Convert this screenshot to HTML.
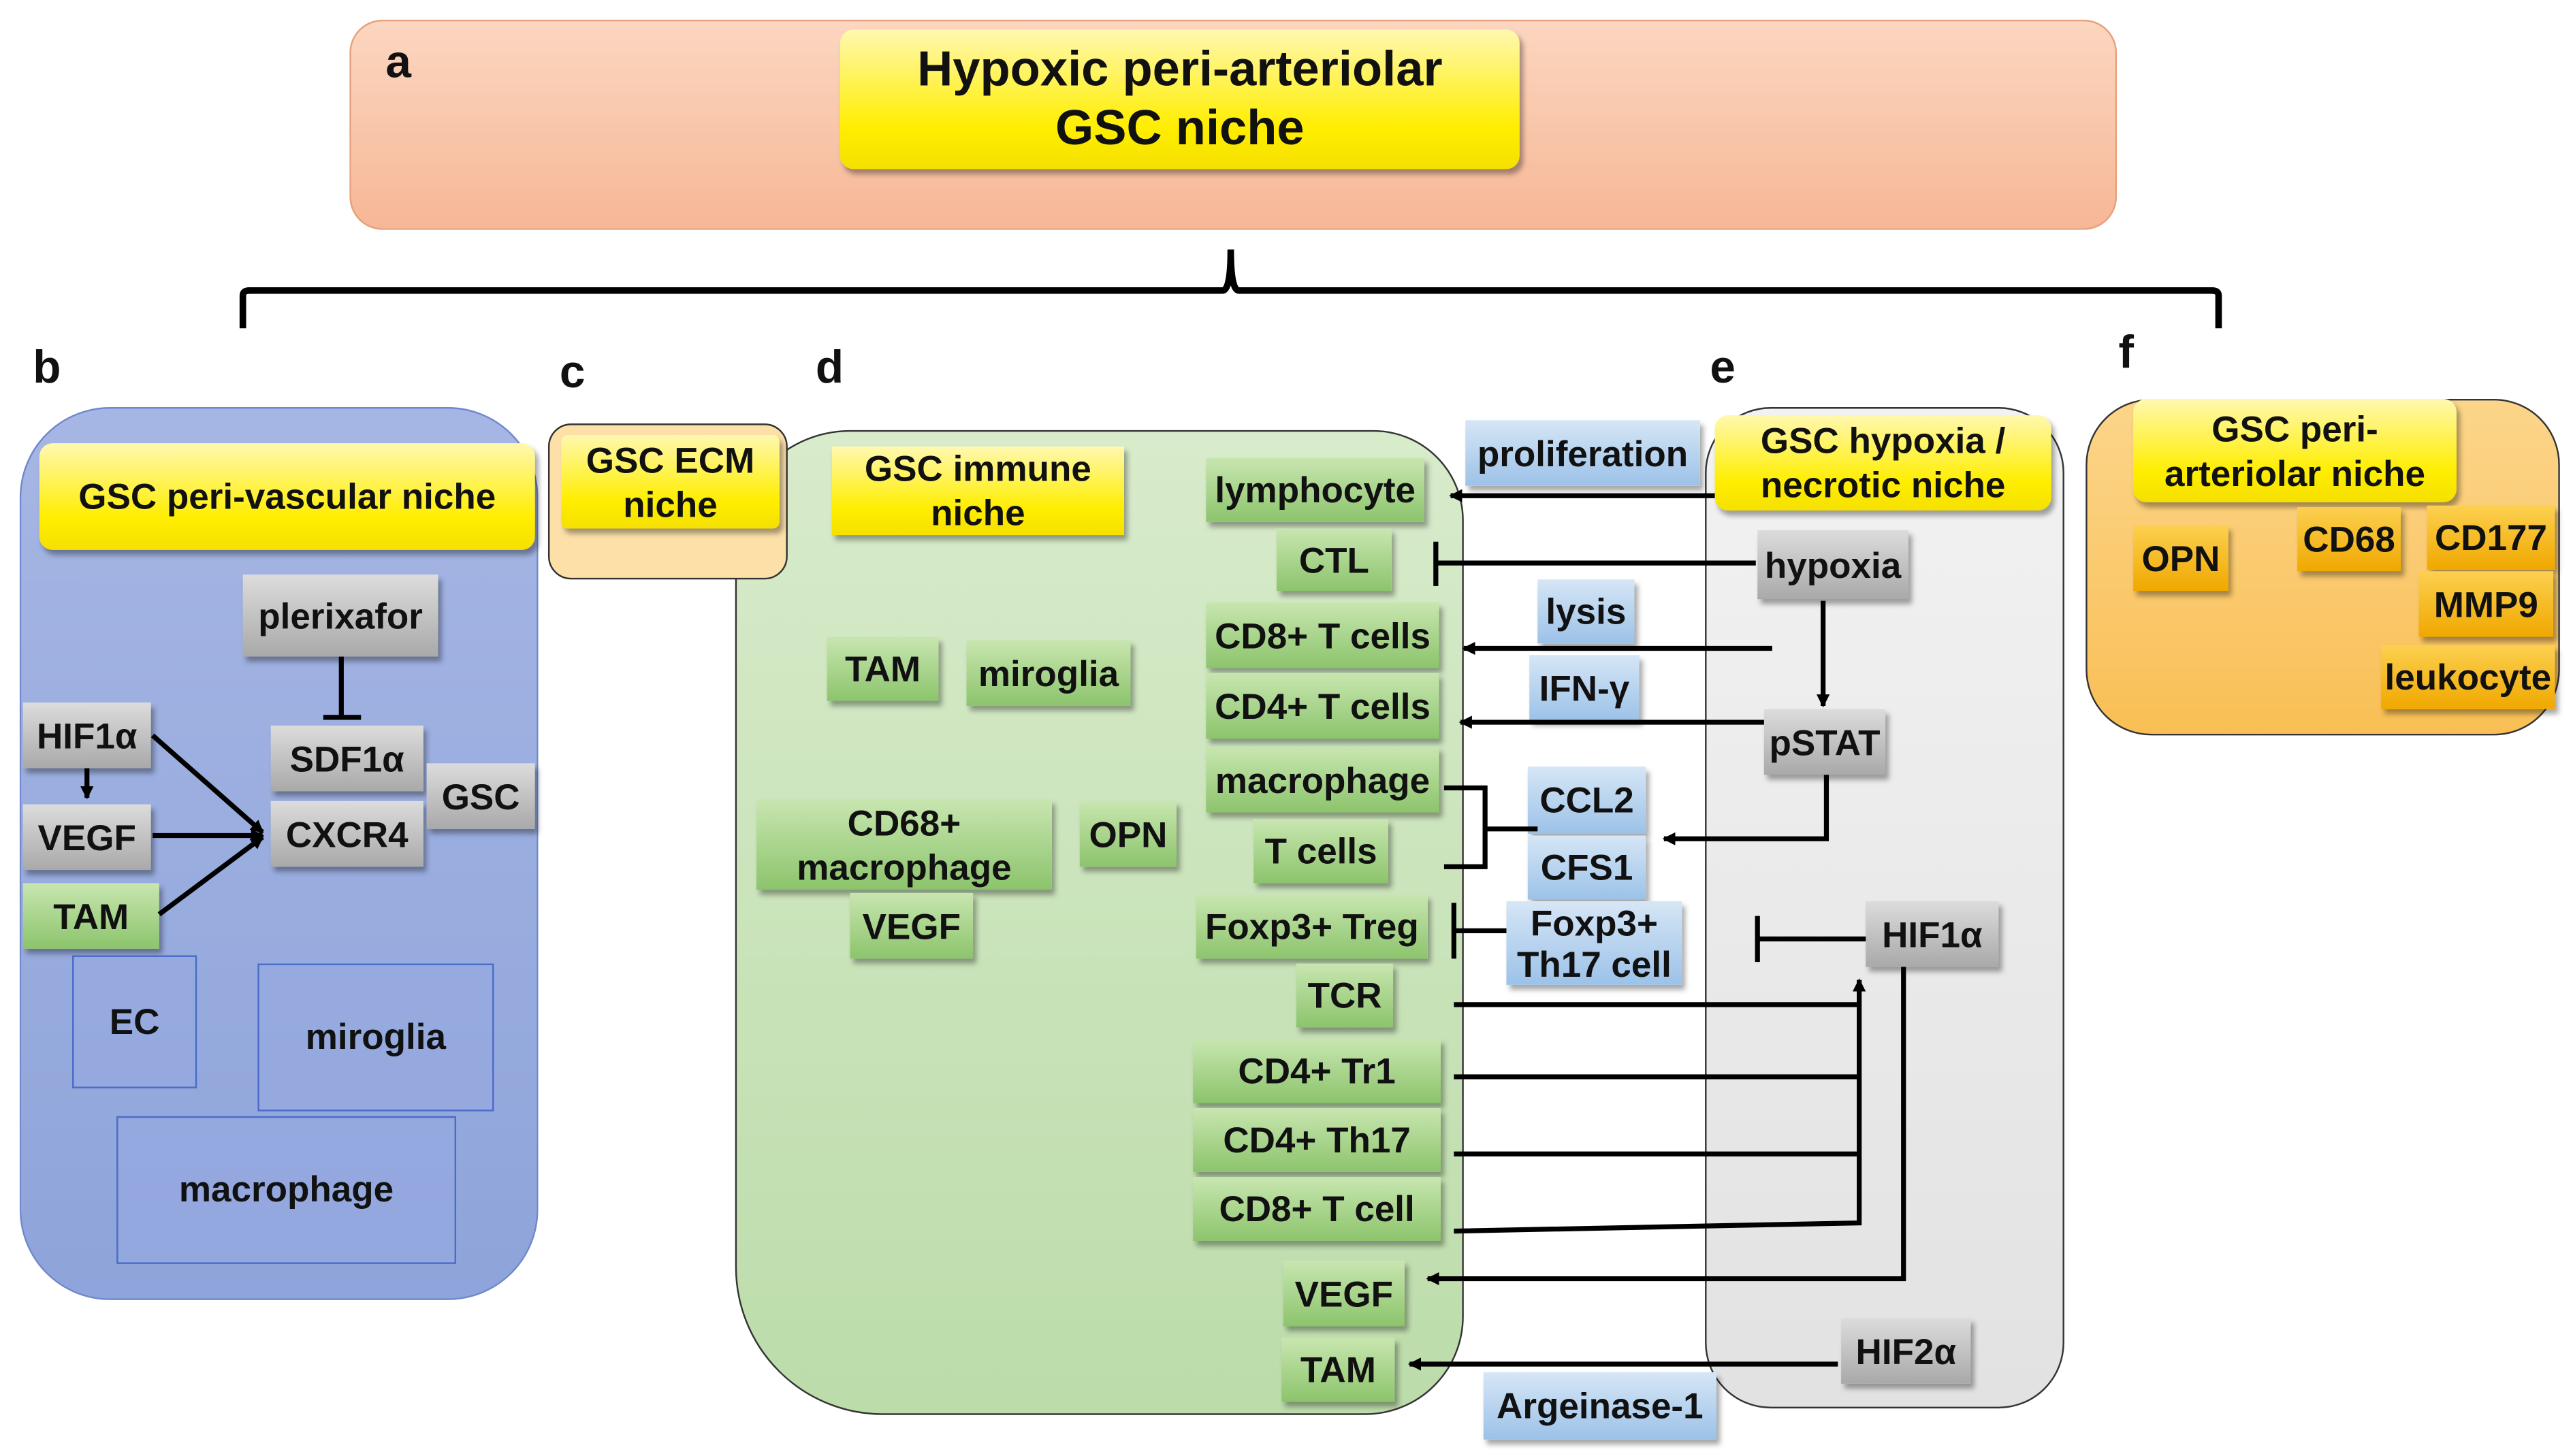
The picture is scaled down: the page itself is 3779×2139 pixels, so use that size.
<!DOCTYPE html>
<html><head><meta charset="utf-8"><style>
html,body{margin:0;padding:0;background:#fff;}
body{width:3779px;height:2139px;overflow:hidden;position:relative;}
#s{position:absolute;left:0;top:0;width:1568px;height:887px;transform:scale(2.4101,2.4115);transform-origin:0 0;font-family:"Liberation Sans",Arial,sans-serif;font-weight:bold;color:#111;}
.p{position:absolute;box-sizing:border-box;border:1.5px solid #333;}
.b{position:absolute;box-sizing:border-box;display:flex;align-items:center;justify-content:center;text-align:center;font-size:22px;line-height:27px;white-space:nowrap;box-shadow:2px 3px 3px rgba(0,0,0,.35);}
.g{background:linear-gradient(#dcdcdc,#a9a9a9);}
.gr{background:linear-gradient(#c8e6b0,#8cc46c);}
.bl{background:linear-gradient(#d6e6f6,#9cc2e8);}
.y{background:linear-gradient(#fff8b0,#ffee00 70%,#f5e000);border-radius:8px;}
.o{background:linear-gradient(#fcd050,#f0a800);}
.bb{position:absolute;box-sizing:border-box;border:1px solid #4a6cc8;display:flex;align-items:center;justify-content:center;font-size:22px;background:rgba(150,170,225,.6);}
.L{position:absolute;font-size:28px;}
svg{position:absolute;left:0;top:0;}
</style></head><body><div id="s">
<div class="p" style="left:213px;top:12px;width:1077px;height:128px;border-radius:20px;border-color:#e6a07a;background:linear-gradient(#fcd6c0,#f6b796);"></div>
<div class="L" style="left:235px;top:22px;">a</div>
<div class="b y" style="left:512px;top:18px;width:414px;height:85px;font-size:30px;line-height:36px;">Hypoxic peri-arteriolar<br>GSC niche</div>
<div class="L" style="left:20px;top:208px;">b</div>
<div class="L" style="left:341px;top:211px;">c</div>
<div class="L" style="left:497px;top:208px;">d</div>
<div class="L" style="left:1042px;top:208px;">e</div>
<div class="L" style="left:1291px;top:199px;">f</div>

<div class="p" style="left:12px;top:248px;width:316px;height:544px;border-radius:55px;border-color:#7088cc;background:linear-gradient(#a6b6e4,#8ea4da);"></div>
<div class="b y" style="left:24px;top:270px;width:302px;height:65px;">GSC peri-vascular niche</div>
<div class="b g" style="left:148px;top:350px;width:119px;height:50px;">plerixafor</div>
<div class="b g" style="left:165px;top:442px;width:93px;height:40px;">SDF1α</div>
<div class="b g" style="left:165px;top:488px;width:93px;height:40px;">CXCR4</div>
<div class="b g" style="left:260px;top:465px;width:66px;height:40px;">GSC</div>
<div class="b g" style="left:14px;top:428px;width:78px;height:40px;">HIF1α</div>
<div class="b g" style="left:14px;top:490px;width:78px;height:40px;">VEGF</div>
<div class="b gr" style="left:14px;top:538px;width:83px;height:40px;">TAM</div>
<div class="bb" style="left:44px;top:582px;width:76px;height:81px;">EC</div>
<div class="bb" style="left:157px;top:587px;width:144px;height:90px;">miroglia</div>
<div class="bb" style="left:71px;top:680px;width:207px;height:90px;">macrophage</div>

<div class="p" style="left:448px;top:262px;width:444px;height:600px;border-radius:70px 55px 60px 90px;background:linear-gradient(#d8ebcb,#bcdcaa);"></div>
<div class="p" style="left:334px;top:258px;width:146px;height:95px;border-radius:14px;background:#fde0a8;"></div>
<div class="b y" style="left:342px;top:265px;width:133px;height:57px;border-radius:4px;">GSC ECM<br>niche</div>
<div class="b y" style="left:507px;top:272px;width:178px;height:54px;border-radius:0;">GSC immune<br>niche</div>
<div class="b gr" style="left:504px;top:388px;width:68px;height:39px;">TAM</div>
<div class="b gr" style="left:589px;top:390px;width:100px;height:40px;">miroglia</div>
<div class="b gr" style="left:461px;top:487px;width:180px;height:55px;">CD68+<br>macrophage</div>
<div class="b gr" style="left:658px;top:488px;width:59px;height:40px;">OPN</div>
<div class="b gr" style="left:518px;top:544px;width:75px;height:40px;">VEGF</div>
<div class="b gr" style="left:735px;top:279px;width:133px;height:39px;">lymphocyte</div>
<div class="b gr" style="left:778px;top:322px;width:70px;height:38px;">CTL</div>
<div class="b gr" style="left:735px;top:367px;width:142px;height:40px;">CD8+ T cells</div>
<div class="b gr" style="left:735px;top:410px;width:142px;height:40px;">CD4+ T cells</div>
<div class="b gr" style="left:735px;top:455px;width:142px;height:40px;">macrophage</div>
<div class="b gr" style="left:764px;top:499px;width:82px;height:39px;">T cells</div>
<div class="b gr" style="left:729px;top:545px;width:141px;height:39px;">Foxp3+ Treg</div>
<div class="b gr" style="left:790px;top:587px;width:59px;height:39px;">TCR</div>
<div class="b gr" style="left:727px;top:633px;width:151px;height:39px;">CD4+ Tr1</div>
<div class="b gr" style="left:727px;top:675px;width:151px;height:39px;">CD4+ Th17</div>
<div class="b gr" style="left:727px;top:717px;width:151px;height:39px;">CD8+ T cell</div>
<div class="b gr" style="left:782px;top:768px;width:74px;height:40px;">VEGF</div>
<div class="b gr" style="left:781px;top:815px;width:69px;height:39px;">TAM</div>

<div class="p" style="left:1039px;top:248px;width:219px;height:610px;border-radius:40px;background:linear-gradient(#f2f2f2,#e2e2e2);"></div>
<div class="b bl" style="left:893px;top:256px;width:143px;height:40px;">proliferation</div>
<div class="b bl" style="left:937px;top:353px;width:59px;height:39px;">lysis</div>
<div class="b bl" style="left:932px;top:399px;width:67px;height:40px;">IFN-γ</div>
<div class="b bl" style="left:931px;top:467px;width:72px;height:41px;">CCL2</div>
<div class="b bl" style="left:931px;top:509px;width:72px;height:39px;">CFS1</div>
<div class="b bl" style="left:918px;top:549px;width:107px;height:51px;line-height:25px;">Foxp3+<br>Th17 cell</div>
<div class="b bl" style="left:904px;top:836px;width:142px;height:41px;">Argeinase-1</div>
<div class="b y" style="left:1045px;top:253px;width:205px;height:58px;">GSC hypoxia /<br>necrotic niche</div>
<div class="b g" style="left:1071px;top:323px;width:92px;height:42px;">hypoxia</div>
<div class="b g" style="left:1075px;top:432px;width:74px;height:40px;">pSTAT</div>
<div class="b g" style="left:1137px;top:549px;width:81px;height:40px;">HIF1α</div>
<div class="b g" style="left:1122px;top:803px;width:79px;height:40px;">HIF2α</div>

<div class="p" style="left:1271px;top:243px;width:289px;height:205px;border-radius:40px;background:linear-gradient(#fcd58a,#f9bf55);"></div>
<div class="b y" style="left:1300px;top:243px;width:197px;height:63px;">GSC peri-<br>arteriolar niche</div>
<div class="b o" style="left:1300px;top:320px;width:58px;height:40px;">OPN</div>
<div class="b o" style="left:1400px;top:309px;width:63px;height:39px;">CD68</div>
<div class="b o" style="left:1479px;top:308px;width:78px;height:39px;">CD177</div>
<div class="b o" style="left:1474px;top:348px;width:82px;height:40px;">MMP9</div>
<div class="b o" style="left:1451px;top:393px;width:106px;height:39px;">leukocyte</div>

<svg width="1568" height="887" viewBox="0 0 1568 887">
<defs><marker id="a" markerWidth="8" markerHeight="8" refX="7" refY="4" orient="auto" markerUnits="userSpaceOnUse"><path d="M0,0L8,4L0,8z" fill="#000"/></marker></defs>
<g stroke="#000" fill="none" stroke-width="4">
<path d="M148,200V180Q148,177 152,177H745Q750,177 750,152Q750,177 755,177H1348Q1352,177 1352,180V200"/>
</g>
<g stroke="#000" fill="none" stroke-width="3">
<path d="M208,400V437M197,437H220"/>
<path d="M53,468V486" marker-end="url(#a)"/>
<path d="M93,448L160,507" marker-end="url(#a)"/>
<path d="M93,509H160" marker-end="url(#a)"/>
<path d="M97,557L160,510" marker-end="url(#a)"/>
<path d="M1045,302H884" marker-end="url(#a)"/>
<path d="M1070,343H876M875,330V357"/>
<path d="M1111,366V430" marker-end="url(#a)"/>
<path d="M1080,395H892" marker-end="url(#a)"/>
<path d="M1075,440H890" marker-end="url(#a)"/>
<path d="M880,480H905V528H880M905,505H937"/>
<path d="M1113,472V511H1014" marker-end="url(#a)"/>
<path d="M886,550V584M886,567H918"/>
<path d="M1137,572H1071M1071,558V586"/>
<path d="M886,612H1133M886,656H1133M886,703H1133M886,750L1133,745V597" marker-end="url(#a)"/>
<path d="M1160,589V779H870" marker-end="url(#a)"/>
<path d="M1120,831H859" marker-end="url(#a)"/>
</g>
</svg>
</div></body></html>
